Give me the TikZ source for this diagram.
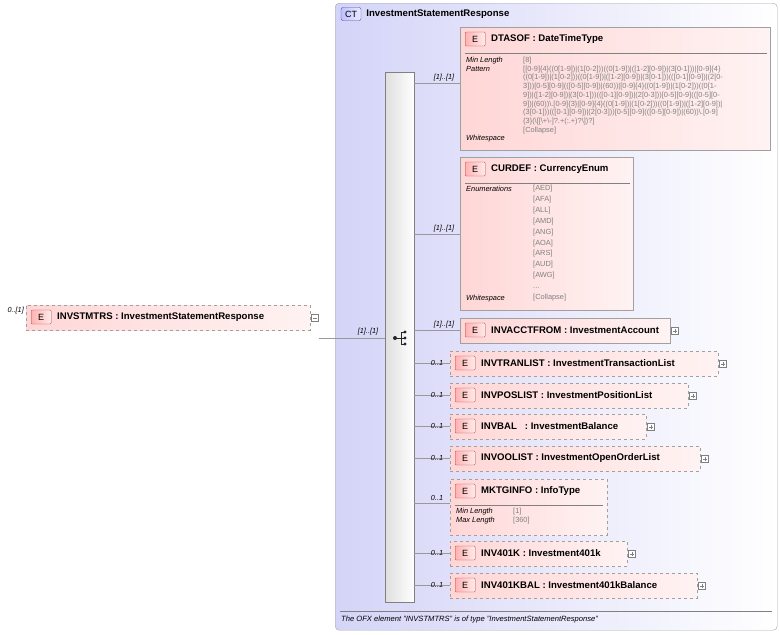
\documentclass[tikz,border=0pt]{standalone}
\usepackage{fontspec}
\setmainfont{Liberation Sans}
\usetikzlibrary{positioning}

\definecolor{ctblue}{HTML}{D4D4F8}
\definecolor{elpink}{HTML}{FFD6D6}
\definecolor{elline}{HTML}{A0A0A0}
\definecolor{detgray}{HTML}{808080}

\tikzset{
  elem/.style={draw=elline, left color=elpink, right color=elpink!30, anchor=north west,
    inner sep=0pt},
  opt/.style={dashed},
  ebadge/.style={draw=red!45!gray, left color=red!30, right color=red!8, rounded corners=1pt, minimum width=20pt,
    minimum height=14pt, inner sep=0pt, font=\fontsize{9}{9}\selectfont},
  card/.style={font=\fontsize{7.3}{8}\selectfont\itshape, inner sep=0pt},
  link/.style={draw=gray!80, line width=0.5pt},
  pm/.style={draw=gray, fill=white, minimum size=7pt, inner sep=0pt},
  det/.style={anchor=north west, inner sep=0pt, font=\fontsize{7.4}{8.7}\selectfont, align=left}
}

\newcommand{\elemtitle}[2]{%
  \node[ebadge, anchor=west] at ([xshift=5pt,yshift=-12pt]#1.north west) {E};
  \node[anchor=west, inner sep=0pt, font=\fontsize{9.6}{10}\selectfont\bfseries]
    at ([xshift=31pt,yshift=-12pt]#1.north west) {#2};}

\begin{document}
\begin{tikzpicture}[x=1pt,y=-1pt]
\useasboundingbox (0,0) rectangle (780,635);

% complex type frame
\node[draw=gray!70, rounded corners=4pt, left color=ctblue, right color=white, anchor=north west,
  minimum width=442pt, minimum height=627pt, inner sep=0pt] (ct) at (335,3) {};
\node[draw=blue!40!gray, left color=blue!25, right color=blue!8, rounded corners=2pt, minimum width=20pt, minimum height=13pt,
  inner sep=0pt, font=\fontsize{9}{9}\selectfont] (ctbadge) at (351,14) {CT};
\node[right=5pt of ctbadge, inner sep=0pt, font=\fontsize{9.6}{10}\selectfont\bfseries] {InvestmentStatementResponse};
\draw[gray] (340,611) -- (772,611);
\node[anchor=west, inner sep=0pt, font=\fontsize{7.6}{8}\selectfont\itshape] (foot) at (341,620)
  {The OFX element "INVSTMTRS" is of type "InvestmentStatementResponse"};

% root element
\node[elem, opt, minimum width=284pt, minimum height=25pt] (root) at (26,305) {};
\elemtitle{root}{INVSTMTRS : InvestmentStatementResponse}
\node[card, anchor=east] at (24,311) {0..[1]};
\node[pm, right=1pt of root] (rootpm) {};
\draw[gray] ([xshift=-2pt]rootpm.center) -- ([xshift=2pt]rootpm.center);

% sequence
\node[draw=gray, left color=gray!25, right color=white, anchor=north west, minimum width=29pt,
  minimum height=530pt, inner sep=0pt] (seq) at (385,72) {};
\coordinate (seqin) at (385,338);
\draw[link] (rootpm.east |- seqin) -- (seqin);
\node[card, anchor=south] at (368,335) {[1]..[1]};
% sequence icon
\fill[gray!30!black] (395,338) circle (2pt) (405,332) circle (1.7pt) (405,338) circle (1.7pt) (405,344) circle (1.7pt);
\draw[gray!30!black] (395,338) -- (401,338) (401,332) -- (401,344) (401,332) -- (405,332) (401,344) -- (405,344) (401,338) -- (405,338);

% DTASOF
\node[elem, minimum width=310pt, minimum height=123pt] (dtasof) at (460,27) {};
\elemtitle{dtasof}{DTASOF : DateTimeType}
\draw[gray] (465,53) -- (767,53);
\node[det] at (466,57) {\itshape Min Length\\\itshape Pattern};
\node[det, text=detgray] at (523,57) {[8]\\{}%
[[0-9]\{4\}((0[1-9])|(1[0-2]))((0[1-9])|([1-2][0-9])|(3[0-1]))|[0-9]\{4\}\\{}%
((0[1-9])|(1[0-2]))((0[1-9])|([1-2][0-9])|(3[0-1]))(([0-1][0-9])|(2[0-\\{}%
3]))[0-5][0-9](([0-5][0-9])|(60))|[0-9]\{4\}((0[1-9])|(1[0-2]))((0[1-\\{}%
9])|([1-2][0-9])|(3[0-1]))(([0-1][0-9])|(2[0-3]))[0-5][0-9](([0-5][0-\\{}%
9])|(60))\textbackslash.[0-9]\{3\}|[0-9]\{4\}((0[1-9])|(1[0-2]))((0[1-9])|([1-2][0-9])|\\{}%
(3[0-1]))(([0-1][0-9])|(2[0-3]))[0-5][0-9](([0-5][0-9])|(60))\textbackslash.[0-9]\\{}%
\{3\}(\textbackslash[[\textbackslash+\textbackslash-]?.+(:.+)?\textbackslash])?]\\{}%
[Collapse]};
\node[det] at (466,135) {\itshape Whitespace};

% CURDEF
\node[elem, minimum width=173pt, minimum height=153pt] (curdef) at (460,157) {};
\elemtitle{curdef}{CURDEF : CurrencyEnum}
\draw[gray] (465,183) -- (630,183);
\node[det] at (466,186) {\itshape Enumerations};
\node[det, text=detgray, font=\fontsize{7.4}{10.9}\selectfont] at (533,185)
  {[AED]\\{}[AFA]\\{}[ALL]\\{}[AMD]\\{}[ANG]\\{}[AOA]\\{}[ARS]\\{}[AUD]\\{}[AWG]\\...\\{}[Collapse]};
\node[det] at (466,295) {\itshape Whitespace};

% simple children
\node[elem, minimum width=210pt, minimum height=25pt] (invacct) at (460,318) {};
\elemtitle{invacct}{INVACCTFROM : InvestmentAccount}
\node[elem, opt, minimum width=268pt, minimum height=25pt] (invtran) at (450,351) {};
\elemtitle{invtran}{INVTRANLIST : InvestmentTransactionList}
\node[elem, opt, minimum width=238pt, minimum height=25pt] (invpos) at (450,383) {};
\elemtitle{invpos}{INVPOSLIST : InvestmentPositionList}
\node[elem, opt, minimum width=196pt, minimum height=25pt] (invbal) at (450,414) {};
\elemtitle{invbal}{INVBAL\ \ \ : InvestmentBalance}
\node[elem, opt, minimum width=250pt, minimum height=25pt] (invoo) at (450,446) {};
\elemtitle{invoo}{INVOOLIST : InvestmentOpenOrderList}
\node[elem, opt, minimum width=157pt, minimum height=56pt] (mktg) at (450,479) {};
\elemtitle{mktg}{MKTGINFO : InfoType}
\draw[gray] (455,505) -- (603,505);
\node[det] at (456,508) {\itshape Min Length\\\itshape Max Length};
\node[det, text=detgray] at (513,508) {[1]\\{}[360]};
\node[elem, opt, minimum width=177pt, minimum height=25pt] (inv401k) at (450,541) {};
\elemtitle{inv401k}{INV401K : Investment401k}
\node[elem, opt, minimum width=247pt, minimum height=25pt] (inv401kbal) at (450,573) {};
\elemtitle{inv401kbal}{INV401KBAL : Investment401kBalance}

% plus boxes
\foreach \n in {invacct,invtran,invpos,invbal,invoo,inv401k,inv401kbal}{
  \node[pm, right=1pt of \n] (\n pm) {};
  \draw[gray] ([xshift=-2pt]\n pm.center) -- ([xshift=2pt]\n pm.center)
              ([yshift=-2pt]\n pm.center) -- ([yshift=2pt]\n pm.center);
}

% connectors
\coordinate (cdt) at (460,83);
\coordinate (ccur) at (460,234);
\coordinate (cmk) at (450,503);
\draw[link] (seq.east |- cdt) -- (cdt);
\draw[link] (seq.east |- ccur) -- (ccur);
\draw[link] (seq.east |- cmk) -- (cmk);
\node[card, anchor=south] at (444,81) {[1]..[1]};
\node[card, anchor=south] at (444,232) {[1]..[1]};
\node[card, anchor=south] at (437,501) {0..1};
\draw[link] (seq.east |- invacct.west) -- (invacct.west);
\node[card, anchor=south] at (444,328) {[1]..[1]};
\foreach \n in {invtran,invpos,invbal,invoo,inv401k,inv401kbal}{
  \draw[link] (seq.east |- \n.west) -- (\n.west);
  \node[card, anchor=south] at ([xshift=-13pt,yshift=-2pt]\n.west) {0..1};
}
\end{tikzpicture}
\end{document}
